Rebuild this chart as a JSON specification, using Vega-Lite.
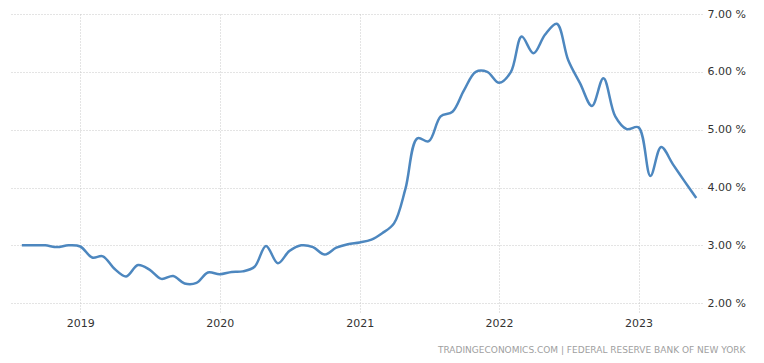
{
  "$schema": "https://vega.github.io/schema/vega-lite/v6.json",
  "autosize": {"type": "none"},
  "width": 692,
  "height": 299,
  "padding": {"left": 10, "top": 14, "right": 62, "bottom": 50},
  "background": "white",
  "title": {
    "text": "TRADINGECONOMICS.COM  |  FEDERAL RESERVE BANK OF NEW YORK",
    "orient": "bottom",
    "anchor": "end",
    "frame": "bounds",
    "offset": 18,
    "font": "DejaVu Sans",
    "fontSize": 9,
    "fontWeight": "normal",
    "color": "#a0a0a0"
  },
  "data": {
    "values": [
      {"date": "2018-08-01", "value": 3.0},
      {"date": "2018-09-01", "value": 3.0},
      {"date": "2018-10-01", "value": 3.0},
      {"date": "2018-11-01", "value": 2.97},
      {"date": "2018-12-01", "value": 3.0},
      {"date": "2019-01-01", "value": 2.98},
      {"date": "2019-02-01", "value": 2.79},
      {"date": "2019-03-01", "value": 2.81},
      {"date": "2019-04-01", "value": 2.59},
      {"date": "2019-05-01", "value": 2.46},
      {"date": "2019-06-01", "value": 2.66},
      {"date": "2019-07-01", "value": 2.58},
      {"date": "2019-08-01", "value": 2.42},
      {"date": "2019-09-01", "value": 2.47},
      {"date": "2019-10-01", "value": 2.34},
      {"date": "2019-11-01", "value": 2.35},
      {"date": "2019-12-01", "value": 2.53},
      {"date": "2020-01-01", "value": 2.5},
      {"date": "2020-02-01", "value": 2.54},
      {"date": "2020-03-01", "value": 2.55},
      {"date": "2020-04-01", "value": 2.63},
      {"date": "2020-05-01", "value": 2.99},
      {"date": "2020-06-01", "value": 2.69},
      {"date": "2020-07-01", "value": 2.9},
      {"date": "2020-08-01", "value": 3.0},
      {"date": "2020-09-01", "value": 2.97},
      {"date": "2020-10-01", "value": 2.84},
      {"date": "2020-11-01", "value": 2.96},
      {"date": "2020-12-01", "value": 3.02},
      {"date": "2021-01-01", "value": 3.05},
      {"date": "2021-02-01", "value": 3.1},
      {"date": "2021-03-01", "value": 3.21},
      {"date": "2021-04-01", "value": 3.38},
      {"date": "2021-05-01", "value": 3.98},
      {"date": "2021-06-01", "value": 4.85},
      {"date": "2021-07-01", "value": 4.8},
      {"date": "2021-08-01", "value": 5.23},
      {"date": "2021-09-01", "value": 5.31},
      {"date": "2021-10-01", "value": 5.68},
      {"date": "2021-11-01", "value": 6.0},
      {"date": "2021-12-01", "value": 6.0},
      {"date": "2022-01-01", "value": 5.81},
      {"date": "2022-02-01", "value": 6.0},
      {"date": "2022-03-01", "value": 6.61},
      {"date": "2022-04-01", "value": 6.32},
      {"date": "2022-05-01", "value": 6.64},
      {"date": "2022-06-01", "value": 6.83},
      {"date": "2022-07-01", "value": 6.2},
      {"date": "2022-08-01", "value": 5.8},
      {"date": "2022-09-01", "value": 5.41},
      {"date": "2022-10-01", "value": 5.89},
      {"date": "2022-11-01", "value": 5.23},
      {"date": "2022-12-01", "value": 5.01},
      {"date": "2023-01-01", "value": 5.04},
      {"date": "2023-02-01", "value": 4.2},
      {"date": "2023-03-01", "value": 4.7},
      {"date": "2023-04-01", "value": 4.4},
      {"date": "2023-05-01", "value": 4.11},
      {"date": "2023-06-01", "value": 3.82}
    ]
  },
  "mark": {"type": "line", "interpolate": "catmull-rom", "color": "#4d87bf", "strokeWidth": 2.5},
  "encoding": {
    "x": {
      "field": "date",
      "type": "temporal",
      "scale": {
        "type": "utc",
        "domain": [
          {"year": 2018, "month": 7, "date": 1, "utc": true},
          {"year": 2023, "month": 6, "date": 16, "utc": true}
        ]
      },
      "axis": {
        "title": null,
        "values": [
          {"year": 2019, "month": 1, "date": 1, "utc": true},
          {"year": 2020, "month": 1, "date": 1, "utc": true},
          {"year": 2021, "month": 1, "date": 1, "utc": true},
          {"year": 2022, "month": 1, "date": 1, "utc": true},
          {"year": 2023, "month": 1, "date": 1, "utc": true}
        ],
        "format": "%Y",
        "formatType": "utc",
        "domain": false,
        "ticks": false,
        "labelPadding": 4,
        "labelFont": "DejaVu Sans",
        "labelFontSize": 11,
        "labelColor": "#333333",
        "grid": true,
        "gridColor": "#c8c8c8",
        "gridDash": [1, 2],
        "gridWidth": 1
      }
    },
    "y": {
      "field": "value",
      "type": "quantitative",
      "scale": {"domain": [1.83, 7.0], "nice": false, "zero": false},
      "axis": {
        "title": null,
        "orient": "right",
        "values": [2, 3, 4, 5, 6, 7],
        "labelExpr": "format(datum.value, '.2f') + ' %'",
        "domain": false,
        "ticks": false,
        "labelPadding": 5,
        "labelFont": "DejaVu Sans",
        "labelFontSize": 11,
        "labelColor": "#333333",
        "grid": true,
        "gridColor": "#c8c8c8",
        "gridDash": [1, 2],
        "gridWidth": 1
      }
    }
  },
  "config": {"view": {"stroke": null}}
}
